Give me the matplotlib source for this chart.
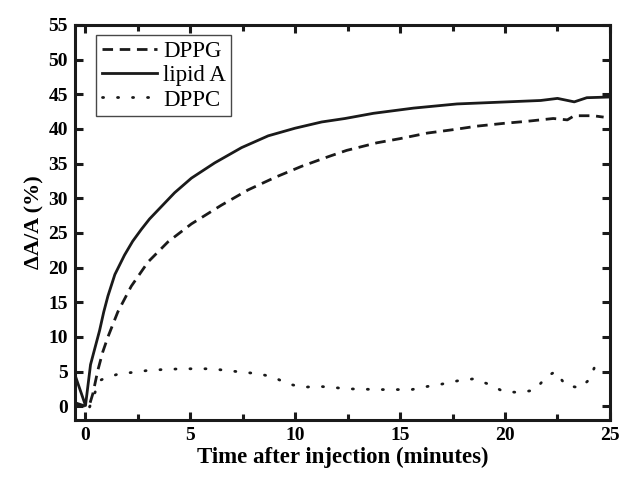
import numpy as np
import matplotlib
matplotlib.use("Agg")
import matplotlib.pyplot as plt

###############################################################################
# Data
###############################################################################
lipid_t = [-0.5, 0.0, 0.24, 0.45, 0.67, 0.87, 1.07, 1.4, 1.86, 2.25, 2.66, 3.05,
           3.46, 4.25, 5.05, 6.16, 7.44, 8.71, 9.99, 11.26, 12.37, 13.73, 15.64,
           17.71, 20.1, 21.7, 22.5, 23.3, 23.9, 25.0]
lipid_y = [4.5, 0.1, 6.0, 8.4, 10.9, 13.6, 15.9, 19.0, 21.8, 23.8, 25.5, 27.0,
           28.3, 30.8, 32.9, 35.1, 37.3, 39.0, 40.1, 41.0, 41.5, 42.25, 43.0,
           43.6, 43.9, 44.1, 44.4, 43.9, 44.5, 44.6]

dppg_t = [-0.5, 0.0, 0.2, 0.35, 0.59, 0.82, 1.07, 1.54, 2.18, 2.98, 3.93, 5.05,
          6.48, 7.75, 9.03, 10.3, 11.58, 12.45, 13.9, 15.0, 16.3, 17.55, 18.67,
          19.94, 21.06, 22.3, 22.97, 23.3, 24.2, 24.7]
dppg_y = [0.5, 0.0, 0.3, 1.8, 5.2, 7.8, 10.0, 13.6, 17.3, 20.8, 23.7, 26.3,
          29.0, 31.2, 33.0, 34.6, 36.0, 36.9, 38.0, 38.6, 39.4, 39.9, 40.4,
          40.8, 41.1, 41.5, 41.3, 41.9, 41.9, 41.7]

dppc_t = [-0.5, 0.2, 0.43, 0.67, 0.9, 1.62, 2.34, 3.06, 4.57, 6.0, 7.5, 8.23,
          8.95, 9.67, 10.39, 11.2, 12.6, 14.1, 15.55, 16.3, 17.0, 17.8, 18.5,
          19.2, 19.94, 20.65, 21.4, 22.0, 22.4, 22.9, 23.6, 24.05, 24.3]
dppc_y = [0.4, -0.1, 1.8, 3.7, 4.0, 4.7, 4.9, 5.2, 5.4, 5.4, 4.9, 4.7,
          4.2, 3.2, 2.75, 2.85, 2.5, 2.4, 2.4, 2.85, 3.2, 3.7, 3.95,
          3.2, 2.1, 2.0, 2.3, 4.3, 5.0, 3.0, 2.65, 3.95, 5.9]

x_ticks = [0, 5, 10, 15, 20, 25]
y_ticks = [0, 5, 10, 15, 20, 25, 30, 35, 40, 45, 50, 55]

###############################################################################
# Plot
###############################################################################
plt.rcParams["font.family"] = ["Liberation Serif", "DejaVu Serif"]

fig = plt.figure(figsize=(6.23, 4.79), dpi=100)
ax = fig.add_axes([0.1204, 0.123, 0.979 - 0.1204, 0.948 - 0.123])

col = "#1a1a1a"
ax.plot(dppg_t, dppg_y, color=col, lw=2.0, dashes=(3.8, 2.4), label="DPPG")
ax.plot(lipid_t, lipid_y, color=col, lw=2.0, label="lipid A")
ax.plot(dppc_t, dppc_y, color=col, lw=2.0, dashes=(0.4, 5.0),
        dash_capstyle="round", label="DPPC")

ax.set_xlim(-0.5, 25)
ax.set_ylim(-2, 55)
ax.set_xticks(x_ticks)
ax.set_yticks(y_ticks)
ax.set_xticks([2.5, 7.5, 12.5, 17.5, 22.5], minor=True)

for s in ax.spines.values():
    s.set_linewidth(2.2)
    s.set_color(col)
ax.tick_params(which="both", direction="in", top=True, right=True,
               width=2.2, color=col, labelsize=14, pad=5)
ax.tick_params(which="major", length=6)
ax.tick_params(which="minor", length=4)
for lab in ax.get_xticklabels() + ax.get_yticklabels():
    lab.set_fontweight("bold")

ax.set_xlabel("Time after injection (minutes)", fontsize=16.5,
              fontweight="bold", labelpad=2)
ax.set_ylabel("\u0394A/A (%)", fontsize=16, fontweight="bold", labelpad=3)

leg = ax.legend(loc="upper left", bbox_to_anchor=(0.04, 0.975), fontsize=16.5,
                frameon=True, fancybox=False, edgecolor=col, handlelength=2.4,
                handletextpad=0.25, borderpad=0.25, borderaxespad=0,
                labelspacing=0.15)
leg.get_frame().set_linewidth(1.0)

fig.savefig("out.png", dpi=100)
